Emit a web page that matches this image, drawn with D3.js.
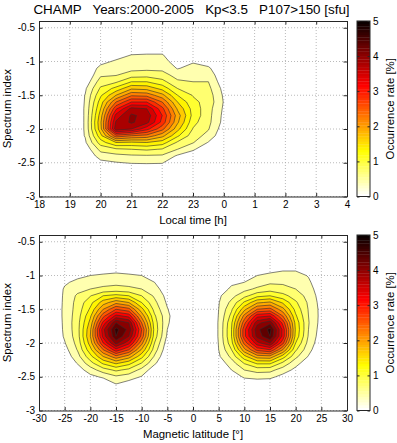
<!DOCTYPE html>
<html>
<head>
<meta charset="utf-8">
<script src="https://cdn.jsdelivr.net/npm/d3@7"></script>
<style>
  body { margin: 0; background: #fff; }
  text { font-family: "Liberation Sans", Arial, Helvetica, sans-serif; fill: #000; }
</style>
</head>
<body>
<script>
// ---- data ----
const titleText = 'CHAMP   Years:2000-2005   Kp<3.5   P107>150 [sfu]';

// contour levels and colour limits (occurrence rate, %)
const levels = [0.3, 0.6, 0.9, 1.2, 1.5, 1.8, 2.1, 2.4, 2.7, 3.0, 3.3, 3.6, 3.9, 4.2, 4.5, 4.8];
const levelStep = 0.3;
const rateTicks = [0, 1, 2, 3, 4, 5];

const specTicks = [-0.5, -1, -1.5, -2, -2.5, -3];
const specTickLabels = ['-0.5', '-1', '-1.5', '-2', '-2.5', '-3'];

// top panel: local time (24 = 0 h) columns, spectrum index rows
const timeTicks = [18, 19, 20, 21, 22, 23, 24, 25, 26, 27, 28];
const timeTickLabels = ['18', '19', '20', '21', '22', '23', '0', '1', '2', '3', '4'];
const localTime = [19, 19.5, 20, 20.5, 21, 21.5, 22, 22.5, 23, 23.5, 24, 24.5];
const specRowsTime = [-0.7, -0.8, -0.9, -1.0, -1.1, -1.2, -1.3, -1.4, -1.5, -1.6, -1.7,
  -1.8, -1.9, -2.0, -2.1, -2.2, -2.3, -2.4, -2.5, -2.6, -2.7];
const rateByTime = [
  [0, 0,    0,    0,    0,    0,    0,    0,    0,    0,    0,    0],
  [0, 0,    0,    0,    0.1,  0.1,  0.1,  0,    0,    0,    0,    0],
  [0, 0,    0,    0.15, 0.3,  0.32, 0.32, 0.05, 0,    0,    0,    0],
  [0, 0,    0.2,  0.35, 0.4,  0.42, 0.42, 0.15, 0.27, 0.15, 0,    0],
  [0, 0,    0.4,  0.45, 0.5,  0.52, 0.52, 0.28, 0.4,  0.35, 0,    0],
  [0, 0,    0.55, 0.58, 0.75, 0.78, 0.72, 0.48, 0.5,  0.48, 0.05, 0],
  [0, 0.1,  0.75, 0.85, 1.2,  1.2,  1.0,  0.65, 0.6,  0.6,  0.1,  0],
  [0, 0.25, 0.95, 1.3,  1.75, 1.7,  1.4,  0.9,  0.72, 0.68, 0.2,  0],
  [0, 0.31, 1.15, 1.8,  2.35, 2.3,  1.9,  1.2,  0.88, 0.75, 0.25, 0],
  [0, 0.32, 1.35, 2.4,  3.0,  3.0,  2.4,  1.5,  0.98, 0.78, 0.28, 0],
  [0, 0.33, 1.5,  2.95, 3.7,  3.6,  2.8,  1.75, 1.08, 0.72, 0.25, 0],
  [0, 0.33, 1.65, 3.4,  3.95, 3.8,  3.0,  1.95, 1.1,  0.7,  0.22, 0],
  [0, 0.33, 1.75, 3.65, 3.95, 3.7,  2.9,  1.85, 1.0,  0.68, 0.2,  0],
  [0, 0.33, 1.7,  3.8,  3.6,  3.1,  2.5,  1.6,  0.88, 0.62, 0.12, 0],
  [0, 0.32, 1.4,  2.6,  2.4,  2.3,  1.9,  1.25, 0.74, 0.5,  0.05, 0],
  [0, 0.25, 1.05, 1.5,  1.45, 1.5,  1.35, 0.85, 0.62, 0.28, 0,    0],
  [0, 0.1,  0.7,  0.85, 0.9,  0.95, 0.88, 0.6,  0.35, 0.05, 0,    0],
  [0, 0,    0.45, 0.5,  0.55, 0.56, 0.55, 0.25, 0.1,  0,    0,    0],
  [0, 0,    0.2,  0.28, 0.32, 0.33, 0.32, 0.05, 0,    0,    0,    0],
  [0, 0,    0,    0.05, 0.1,  0.1,  0.1,  0,    0,    0,    0,    0],
  [0, 0,    0,    0,    0,    0,    0,    0,    0,    0,    0,    0]
];

// bottom panel: magnetic latitude columns, spectrum index rows
const latTicks = [-30, -25, -20, -15, -10, -5, 0, 5, 10, 15, 20, 25, 30];
const latTickLabels = ['-30', '-25', '-20', '-15', '-10', '-5', '0', '5', '10', '15', '20', '25', '30'];
const latSouth = [-27.5, -25, -22.5, -20, -17.5, -15, -12.5, -10, -7.5, -5, -2.5];
const latNorth = [2.5, 5, 7.5, 10, 12.5, 15, 17.5, 20, 22.5, 25, 27.5];
const specRowsLat = [-0.8, -0.9, -1.0, -1.1, -1.2, -1.3, -1.4, -1.5, -1.6, -1.7,
  -1.8, -1.9, -2.0, -2.1, -2.2, -2.3, -2.4, -2.5, -2.6, -2.7];
const rateSouth = [
  [0, 0,    0,    0,    0,    0,    0,    0,    0,    0,    0],
  [0, 0,    0,    0.1,  0.15, 0.2,  0.15, 0.1,  0,    0,    0],
  [0, 0.1,  0.22, 0.3,  0.34, 0.36, 0.34, 0.3,  0.15, 0,    0],
  [0, 0.25, 0.38, 0.45, 0.5,  0.52, 0.5,  0.45, 0.3,  0.05, 0],
  [0, 0.34, 0.5,  0.6,  0.66, 0.7,  0.66, 0.6,  0.42, 0.12, 0],
  [0, 0.36, 0.65, 0.88, 1.2,  1.3,  1.2,  0.9,  0.55, 0.2,  0],
  [0, 0.37, 0.7,  1.1,  1.65, 2.0,  1.8,  1.2,  0.68, 0.25, 0],
  [0, 0.38, 0.72, 1.25, 2.1,  2.7,  2.5,  1.6,  0.8,  0.32, 0],
  [0, 0.38, 0.75, 1.45, 2.6,  3.4,  3.2,  2.0,  0.95, 0.38, 0],
  [0, 0.37, 0.78, 1.6,  3.1,  4.2,  3.9,  2.4,  1.05, 0.35, 0],
  [0, 0.36, 0.78, 1.75, 3.5,  4.6,  4.1,  2.7,  1.1,  0.3,  0],
  [0, 0.34, 0.76, 1.8,  3.4,  4.5,  3.9,  2.6,  1.05, 0.25, 0],
  [0, 0.28, 0.7,  1.65, 3.0,  4.0,  3.4,  2.2,  0.9,  0.15, 0],
  [0, 0.18, 0.62, 1.4,  2.4,  3.2,  2.7,  1.75, 0.75, 0.08, 0],
  [0, 0.1,  0.48, 1.1,  1.8,  2.3,  1.95, 1.3,  0.56, 0,    0],
  [0, 0,    0.32, 0.78, 1.25, 1.55, 1.3,  0.88, 0.35, 0,    0],
  [0, 0,    0.15, 0.45, 0.76, 0.96, 0.82, 0.5,  0.12, 0,    0],
  [0, 0,    0,    0.22, 0.35, 0.55, 0.45, 0.28, 0,    0,    0],
  [0, 0,    0,    0,    0.08, 0.32, 0.18, 0.05, 0,    0,    0],
  [0, 0,    0,    0,    0,    0,    0,    0,    0,    0,    0]
];
const rateNorth = [
  [0, 0,    0,    0,    0,    0,    0,    0,    0,    0,    0],
  [0, 0,    0,    0,    0.1,  0.2,  0.25, 0.25, 0.1,  0,    0],
  [0, 0,    0.1,  0.2,  0.3,  0.36, 0.4,  0.4,  0.28, 0.02, 0],
  [0, 0.05, 0.25, 0.3,  0.42, 0.55, 0.55, 0.5,  0.35, 0.08, 0],
  [0, 0.15, 0.35, 0.5,  0.66, 0.76, 0.7,  0.6,  0.42, 0.12, 0],
  [0, 0.25, 0.5,  0.8,  1.1,  1.2,  1.0,  0.76, 0.5,  0.15, 0],
  [0, 0.28, 0.68, 1.25, 1.75, 1.85, 1.45, 0.95, 0.55, 0.18, 0],
  [0, 0.3,  0.85, 1.7,  2.4,  2.5,  1.9,  1.1,  0.58, 0.2,  0],
  [0, 0.31, 1.0,  2.2,  3.2,  3.3,  2.4,  1.25, 0.6,  0.2,  0],
  [0, 0.32, 1.15, 2.6,  3.8,  4.1,  2.9,  1.4,  0.62, 0.18, 0],
  [0, 0.32, 1.2,  2.9,  4.1,  4.6,  3.2,  1.45, 0.6,  0.15, 0],
  [0, 0.32, 1.2,  2.9,  4.0,  4.5,  3.2,  1.4,  0.57, 0.12, 0],
  [0, 0.31, 1.1,  2.5,  3.5,  3.9,  2.8,  1.2,  0.5,  0.08, 0],
  [0, 0.3,  0.9,  2.0,  2.8,  3.0,  2.1,  0.95, 0.4,  0.03, 0],
  [0, 0.25, 0.68, 1.4,  1.95, 2.0,  1.35, 0.68, 0.28, 0,    0],
  [0, 0.12, 0.45, 0.92, 1.25, 1.25, 0.82, 0.4,  0.12, 0,    0],
  [0, 0.02, 0.3,  0.6,  0.72, 0.7,  0.45, 0.22, 0,    0,    0],
  [0, 0,    0.1,  0.35, 0.4,  0.38, 0.2,  0.05, 0,    0,    0],
  [0, 0,    0,    0.1,  0.12, 0.1,  0,    0,    0,    0,    0],
  [0, 0,    0,    0,    0,    0,    0,    0,    0,    0,    0]
];

// ---- layout ----
const width = 397;
const height = 443;
const axLeft = 39, axRight = 347, axHeight = 175.5;
const cbLeft = 357, cbWidth = 13;
const panels = [
  {top: 21, xDomain: [18, 28], ticks: timeTicks, labels: timeTickLabels, xLabel: 'Local time [h]',
   cols: localTime, rows: specRowsTime, grid: rateByTime},
  {top: 235, xDomain: [-30, 30], ticks: latTicks, labels: latTickLabels, xLabel: 'Magnetic latitude [°]',
   cols: [-30, ...latSouth, 0, ...latNorth, 30], rows: specRowsLat,
   grid: rateSouth.map((r, i) => [0, ...r, 0, ...rateNorth[i], 0])}
];

// flipped matlab 'hot' colormap, 64 entries, clim [0 5]
function rateColor(v) {
  const j = Math.min(63, Math.max(0, Math.floor(v / 5 * 64)));
  const k = 63 - j;
  const r = k < 24 ? (k + 1) / 24 : 1;
  const g = k < 24 ? 0 : k < 48 ? (k - 23) / 24 : 1;
  const b = k < 48 ? 0 : (k - 47) / 16;
  return d3.rgb(r * 255, g * 255, b * 255).formatHex();
}

const svg = d3.select('body').append('svg')
  .attr('width', width)
  .attr('height', height);

svg.append('text')
  .attr('x', 191.5)
  .attr('y', 14)
  .attr('text-anchor', 'middle')
  .attr('font-size', 13.4)
  .style('white-space', 'pre')
  .text(titleText);

const frameColor = '#262626';

panels.forEach((p, pi) => {
  const top = p.top, bottom = top + axHeight;
  const xScale = d3.scaleLinear(p.xDomain, [axLeft, axRight]);
  const yScale = d3.scaleLinear([-3, -0.4], [bottom, top]);
  const g = svg.append('g');

  // grid (under the fills)
  const grid = g.append('g')
    .attr('stroke', '#a8a8a8')
    .attr('stroke-width', 0.8)
    .attr('stroke-dasharray', '1,2');
  grid.selectAll('.gx').data(p.ticks.slice(1, -1)).join('line')
    .attr('x1', d => xScale(d)).attr('x2', d => xScale(d))
    .attr('y1', top).attr('y2', bottom);
  grid.selectAll('.gy').data(specTicks).join('line')
    .attr('y1', d => yScale(d)).attr('y2', d => yScale(d))
    .attr('x1', axLeft).attr('x2', axRight);

  // filled contours
  const clipId = 'clip' + pi;
  g.append('clipPath').attr('id', clipId).append('rect')
    .attr('x', axLeft).attr('y', top).attr('width', axRight - axLeft).attr('height', axHeight);

  const nx = p.cols.length, ny = p.rows.length;
  const gx = d3.scaleLinear([0.5, nx - 0.5], [p.cols[0], p.cols[nx - 1]]);
  const gy = d3.scaleLinear([0.5, ny - 0.5], [p.rows[0], p.rows[ny - 1]]);
  const path = d3.geoPath(d3.geoTransform({
    point(x, y) { this.stream.point(xScale(gx(x)), yScale(gy(y))); }
  }));
  const bands = d3.contours().size([nx, ny]).thresholds(levels)(p.grid.flat());

  // each band coloured by the middle of its level interval
  g.append('g')
    .attr('clip-path', `url(#${clipId})`)
    .selectAll('path')
    .data(bands.filter(d => d.coordinates.length))
    .join('path')
    .attr('d', path)
    .attr('fill', d => rateColor(d.value + levelStep / 2))
    .attr('stroke', '#2e2e2e')
    .attr('stroke-width', 0.6)
    .attr('stroke-linejoin', 'round');

  // axes, ticks inward on all four sides
  const ax = g.append('g').attr('font-size', 10.7);
  ax.append('g')
    .attr('transform', `translate(0,${bottom})`)
    .call(d3.axisBottom(xScale).tickValues(p.ticks).tickFormat((d, i) => p.labels[i])
      .tickSizeInner(-3.5).tickSizeOuter(0).tickPadding(4.5));
  ax.append('g')
    .attr('transform', `translate(0,${top})`)
    .call(d3.axisTop(xScale).tickValues(p.ticks).tickFormat('')
      .tickSizeInner(-3.5).tickSizeOuter(0));
  ax.append('g')
    .attr('transform', `translate(${axLeft},0)`)
    .call(d3.axisLeft(yScale).tickValues(specTicks).tickFormat((d, i) => specTickLabels[i])
      .tickSizeInner(-3.5).tickSizeOuter(0).tickPadding(4));
  ax.append('g')
    .attr('transform', `translate(${axRight},0)`)
    .call(d3.axisRight(yScale).tickValues(specTicks).tickFormat('')
      .tickSizeInner(-3.5).tickSizeOuter(0));
  ax.selectAll('.domain, .tick line').attr('stroke', frameColor);
  ax.selectAll('text').attr('fill', '#000').attr('font-family', null);

  // axis labels
  g.append('text')
    .attr('x', (axLeft + axRight) / 2)
    .attr('y', bottom + 27)
    .attr('text-anchor', 'middle')
    .attr('font-size', 11.4)
    .text(p.xLabel);
  g.append('text')
    .attr('transform', `translate(10.5,${(top + bottom) / 2}) rotate(-90)`)
    .attr('text-anchor', 'middle')
    .attr('font-size', 11.4)
    .text('Spectrum index');

  // colorbar
  const cScale = d3.scaleLinear([0, 5], [bottom, top]);
  const steps = d3.range(64);
  g.append('g').selectAll('rect').data(steps).join('rect')
    .attr('x', cbLeft)
    .attr('width', cbWidth)
    .attr('y', i => cScale((i + 1) * 5 / 64))
    .attr('height', i => cScale(i * 5 / 64) - cScale((i + 1) * 5 / 64) + 0.3)
    .attr('fill', i => rateColor((i + 0.5) * 5 / 64));
  const cb = g.append('g').attr('font-size', 10.7);
  cb.append('g')
    .attr('transform', `translate(${cbLeft + cbWidth},0)`)
    .call(d3.axisRight(cScale).tickValues(rateTicks).tickFormat(d3.format('d'))
      .tickSizeInner(-2.5).tickSizeOuter(0).tickPadding(3));
  cb.append('g')
    .attr('transform', `translate(${cbLeft},0)`)
    .call(d3.axisLeft(cScale).tickValues(rateTicks).tickFormat('')
      .tickSizeInner(-2.5).tickSizeOuter(0));
  cb.append('rect')
    .attr('x', cbLeft).attr('y', top).attr('width', cbWidth).attr('height', axHeight)
    .attr('fill', 'none').attr('stroke', frameColor);
  cb.selectAll('.domain').remove();
  cb.selectAll('.tick line').attr('stroke', frameColor);
  cb.selectAll('text').attr('fill', '#000').attr('font-family', null);
  g.append('text')
    .attr('transform', `translate(393.5,${(top + bottom) / 2}) rotate(-90)`)
    .attr('text-anchor', 'middle')
    .attr('font-size', 11.4)
    .text('Occurrence rate [%]');
});
</script>
</body>
</html>
